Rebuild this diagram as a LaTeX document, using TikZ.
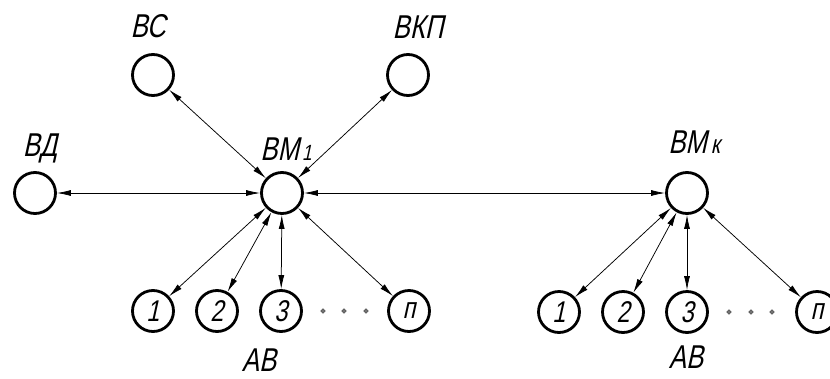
\documentclass[tikz,border=0pt]{standalone}
\usepackage{fontspec}
\newfontfamily\gost{Liberation Sans}[FakeSlant=0.22,FakeStretch=0.78]
\usetikzlibrary{arrows.meta,shapes.geometric}
\begin{document}
\begin{tikzpicture}[x=1pt,y=-1pt,
  vert/.style={circle,draw=black,line width=2.8pt,minimum size=41pt,inner sep=0pt,
    font=\gost\fontsize{30}{30}\selectfont},
  lbl/.style={font=\gost\fontsize{33}{33}\selectfont,inner sep=0pt},
  link/.style={line width=0.75pt,{Latex[length=14pt,width=6pt]}-{Latex[length=14pt,width=6pt]}},
  dotm/.style={diamond,fill=black!55,draw=black!75,line width=0.4pt,minimum size=5pt,inner sep=0pt}]
\useasboundingbox (0,0) rectangle (830,378);
% main nodes
\node[vert] (bd) at (35,193) {};
\node[vert] (bc) at (153,75) {};
\node[vert] (bkp) at (408,75) {};
\node[vert] (bm1) at (282,193) {};
\node[vert] (bmk) at (687,193) {};
% labels
\node[lbl] (lbc) at (148,26) {ВС};
\node[lbl] (lbkp) at (418,27) {ВКП};
\node[lbl] (lbd) at (40,148) {ВД};
\node[lbl] (lbm1) at (286,149) {ВМ\kern3pt{\fontsize{22}{22}\selectfont 1}};
\node[lbl] (lbmk) at (694,142) {ВМ\kern4pt{\fontsize{26}{26}\selectfont к}};
% left AB group
\node[vert] (a1) at (153,311) {1};
\node[vert] (a2) at (217,311) {2};
\node[vert] (a3) at (281,311) {3};
\node[vert] (an) at (409,311) {п};
\node[dotm] (ad1) at (323,311) {};
\node[dotm] (ad2) at (344,311) {};
\node[dotm] (ad3) at (366,311) {};
\node[lbl] (lab1) at (259,360) {АВ};
% right AB group
\node[vert] (b1) at (559,312) {1};
\node[vert] (b2) at (623,312) {2};
\node[vert] (b3) at (687,312) {3};
\node[vert] (bn) at (817,312) {п};
\node[dotm] (bd1) at (729,312) {};
\node[dotm] (bd2) at (751,312) {};
\node[dotm] (bd3) at (772,312) {};
\node[lbl] (lab2) at (686,357) {АВ};
% connectors
\draw[link] (bd) -- (bm1);
\draw[link] (bc) -- (bm1);
\draw[link] (bkp) -- (bm1);
\draw[link] (bm1) -- (bmk);
\draw[link] (bm1) -- (a1);
\draw[link] (bm1) -- (a2);
\draw[link] (bm1) -- (a3);
\draw[link] (bm1) -- (an);
\draw[link] (bmk) -- (b1);
\draw[link] (bmk) -- (b2);
\draw[link] (bmk) -- (b3);
\draw[link] (bmk) -- (bn);
\end{tikzpicture}
\end{document}
